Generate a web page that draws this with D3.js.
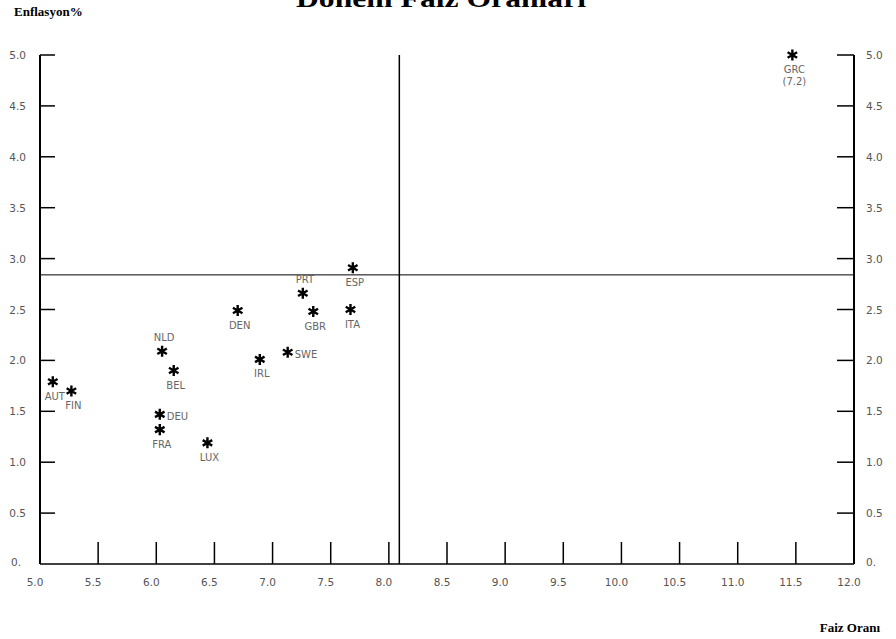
<!DOCTYPE html>
<html lang="tr">
<head>
<meta charset="UTF-8" />
<title>Dönem Faiz Oranları</title>
<style>
  body { margin: 0; background: #fff; }
  svg { display: block; }
  .tick-label { font-family: "DejaVu Sans", sans-serif; font-size: 10.5px; fill: #555; }
  .pt-label { font-family: "DejaVu Sans", sans-serif; font-size: 10px; fill: #666; }
  .title { font-family: "Liberation Serif", serif; font-weight: bold; }
</style>
</head>
<body>
<svg width="896" height="639"></svg>
<script src="https://d3js.org/d3.v7.min.js"></script>
<script>
// ülkeler, faiz oranı (x) ve enflasyon (y)
const countries = ["AUT", "FIN", "NLD", "BEL", "DEU", "FRA", "LUX", "DEN", "IRL", "SWE", "PRT", "GBR", "ITA", "ESP", "GRC"];
const interest  = [5.11, 5.27, 6.05, 6.15, 6.03, 6.03, 6.44, 6.70, 6.89, 7.13, 7.26, 7.35, 7.67, 7.69, 11.47];
const inflation = [1.79, 1.70, 2.09, 1.90, 1.47, 1.32, 1.19, 2.49, 2.01, 2.08, 2.66, 2.48, 2.50, 2.91, 5.00];
// GRC gerçek enflasyon değeri (eksen dışında)
const notes = { GRC: "(7.2)" };

// referans çizgileri (Maastricht kriterleri)
const refInterest = 8.09;
const refInflation = 2.84;

const xTicks = [5.0, 5.5, 6.0, 6.5, 7.0, 7.5, 8.0, 8.5, 9.0, 9.5, 10.0, 10.5, 11.0, 11.5, 12.0];
const yTicks = [0.5, 1.0, 1.5, 2.0, 2.5, 3.0, 3.5, 4.0, 4.5, 5.0];

// etiket yerleşimi
const labelPos = { NLD: "above", PRT: "above", DEU: "right", SWE: "right" };

const svg = d3.select("svg");
const mLeft = 40, mRight = 854, mTop = 55, mBottom = 564;

const x = d3.scaleLinear().domain([5, 12]).range([mLeft, mRight]);
const y = d3.scaleLinear().domain([0, 5]).range([mBottom, mTop]);

// başlık (üstü kırpılmış, referanstaki gibi)
svg.append("text").attr("class", "title")
  .attr("x", 441).attr("y", 7)
  .attr("text-anchor", "middle")
  .attr("font-size", 26)
  .attr("textLength", 290).attr("lengthAdjust", "spacingAndGlyphs")
  .text("Dönem Faiz Oranları");

svg.append("text").attr("class", "title")
  .attr("x", 14).attr("y", 16).attr("font-size", 13)
  .text("Enflasyon%");

svg.append("text").attr("class", "title")
  .attr("x", 880).attr("y", 632).attr("font-size", 13)
  .attr("text-anchor", "end")
  .text("Faiz Oranı");

const g = svg.append("g").attr("stroke", "#000").attr("fill", "none");

// sol, alt ve sağ eksen çizgileri
g.append("line").attr("x1", x(5)).attr("x2", x(5)).attr("y1", y(5)).attr("y2", y(0)).attr("stroke-width", 2);
g.append("line").attr("x1", x(5)).attr("x2", x(12)).attr("y1", y(0)).attr("y2", y(0)).attr("stroke-width", 1.5);
g.append("line").attr("x1", x(12)).attr("x2", x(12)).attr("y1", y(5)).attr("y2", y(0)).attr("stroke-width", 2);

// y tikleri (sol ve sağ)
g.selectAll(".ytl").data(yTicks).join("line").attr("class", "ytl")
  .attr("x1", x(5)).attr("x2", x(5) + 15)
  .attr("y1", d => y(d)).attr("y2", d => y(d)).attr("stroke-width", 1.5);
g.selectAll(".ytr").data(yTicks).join("line").attr("class", "ytr")
  .attr("x1", x(12) - 17).attr("x2", x(12))
  .attr("y1", d => y(d)).attr("y2", d => y(d)).attr("stroke-width", 1.5);

// x tikleri
g.selectAll(".xt").data(xTicks.slice(1, -1)).join("line").attr("class", "xt")
  .attr("x1", d => x(d)).attr("x2", d => x(d))
  .attr("y1", y(0) - 22).attr("y2", y(0)).attr("stroke-width", 1.5);

const fmt = d3.format(".1f");
svg.selectAll(".yl").data(yTicks).join("text").attr("class", "tick-label yl")
  .attr("x", 26).attr("y", d => y(d) + 4).attr("text-anchor", "end").text(fmt);
svg.selectAll(".yr").data(yTicks).join("text").attr("class", "tick-label yr")
  .attr("x", 866).attr("y", d => y(d) + 4).text(fmt);
svg.append("text").attr("class", "tick-label").attr("x", 21).attr("y", y(0) + 2).attr("text-anchor", "end").text("0.");
svg.append("text").attr("class", "tick-label").attr("x", 866).attr("y", y(0) + 2).text("0.");
svg.selectAll(".xl").data(xTicks).join("text").attr("class", "tick-label xl")
  .attr("x", d => x(d) - 5).attr("y", y(0) + 22).attr("text-anchor", "middle").text(fmt);

// referans çizgileri
g.append("line").attr("x1", x(refInterest)).attr("x2", x(refInterest))
  .attr("y1", y(5)).attr("y2", y(0)).attr("stroke-width", 1.5);
g.append("line").attr("x1", x(5)).attr("x2", x(12))
  .attr("y1", y(refInflation)).attr("y2", y(refInflation)).attr("stroke-width", 1);

// noktalar
const points = countries.map((c, i) => ({ c, x: interest[i], y: inflation[i] }));
const marker = d3.symbol().type(d3.symbolAsterisk).size(85);

svg.append("g").selectAll("path").data(points).join("path")
  .attr("transform", d => `translate(${x(d.x)},${y(d.y)})`)
  .attr("d", marker)
  .attr("fill", "none").attr("stroke", "#000").attr("stroke-width", 2.4);

svg.append("g").selectAll("text").data(points).join("text")
  .attr("class", "pt-label")
  .attr("x", d => labelPos[d.c] === "right" ? x(d.x) + 7 : x(d.x) + 2)
  .attr("y", d => {
    const p = labelPos[d.c];
    if (p === "above") return y(d.y) - 10;
    if (p === "right") return y(d.y) + 6;
    return y(d.y) + 18;
  })
  .attr("text-anchor", d => labelPos[d.c] === "right" ? "start" : "middle")
  .text(d => d.c);

svg.append("g").selectAll("text").data(points.filter(d => notes[d.c])).join("text")
  .attr("class", "pt-label")
  .attr("x", d => x(d.x) + 2).attr("y", d => y(d.y) + 30)
  .attr("text-anchor", "middle")
  .text(d => notes[d.c]);
</script>
</body>
</html>
